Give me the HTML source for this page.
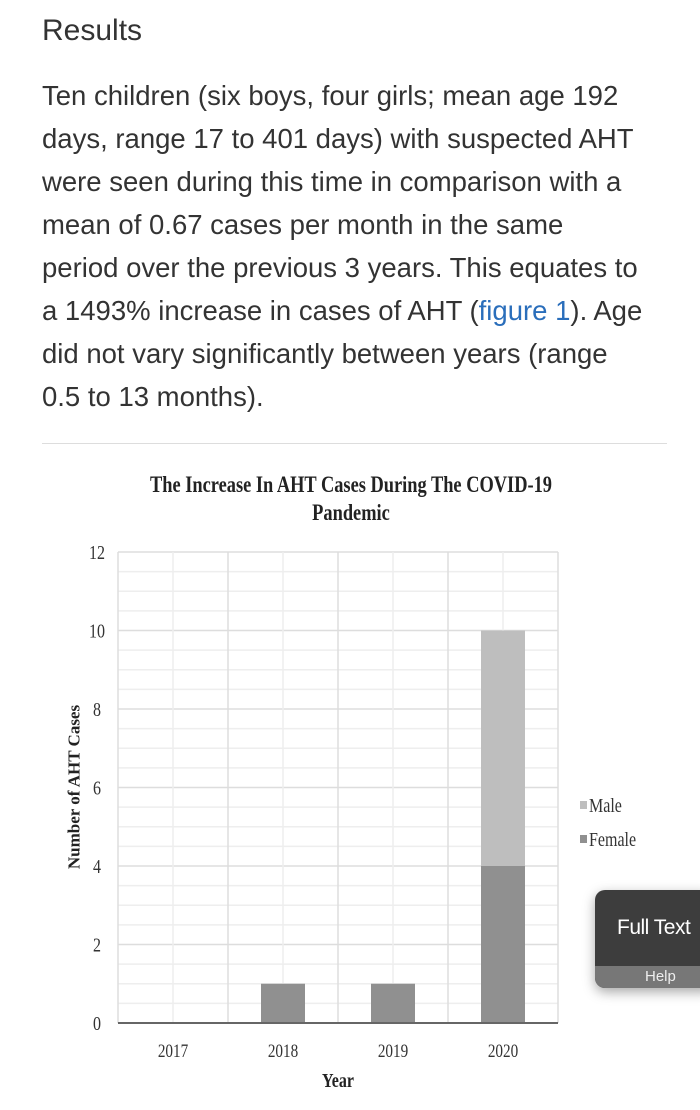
<!DOCTYPE html>
<html><head><meta charset="utf-8">
<style>
body{margin:0;width:700px;height:1110px;background:#fff;overflow:hidden;position:relative;font-family:"Liberation Sans",sans-serif;color:#333}
h2{position:absolute;left:42px;top:14px;margin:0;font-weight:normal;font-size:30px;color:#333}
p{position:absolute;left:42px;top:74px;width:650px;margin:0;font-size:27.5px;line-height:43px;color:#333;white-space:nowrap}
a{color:#2a6ebb;text-decoration:none}
.hr{position:absolute;left:42px;top:443px;width:625px;height:1px;background:#ddd}
.ft{position:absolute;left:595px;top:890px;width:120px;height:98px;border-radius:10px;background:#3d3d3d;box-shadow:0 4px 12px rgba(0,0,0,.35);overflow:hidden;color:#fff}
.ft .t{position:absolute;left:22px;top:26px;font-size:21px;letter-spacing:-0.5px}
.ft .h{position:absolute;left:0;bottom:0;width:100%;height:22px;background:#777;font-size:15px;color:#eee;padding-left:50px;line-height:22px;box-sizing:border-box}
</style></head><body>
<h2>Results</h2>
<p>Ten children (six boys, four girls; mean age 192<br>days, range 17 to 401 days) with suspected AHT<br>were seen during this time in comparison with a<br>mean of 0.67 cases per month in the same<br>period over the previous 3 years. This equates to<br>a 1493% increase in cases of AHT (<a>figure 1</a>). Age<br>did not vary significantly between years (range<br>0.5 to 13 months).</p>
<div class="hr"></div>
<svg id="chart" width="700" height="1110" style="position:absolute;left:0;top:0" font-family="Liberation Serif, serif"></svg>
<div class="ft"><div class="t">Full Text</div><div class="h">Help</div></div>
<script>
const categories=["2017","2018","2019","2020"];
const femaleValues=[0,1,1,4];
const maleValues=[0,0,0,6];
const yTicks=[0,2,4,6,8,10,12];
const NS="http://www.w3.org/2000/svg";
const svg=document.getElementById('chart');
const L=118,R=558,T=552,B=1023,yMax=12;
const y=v=>B-(v/yMax)*(B-T);
const bw=(R-L)/categories.length;
const xc=i=>L+bw*(i+0.5);
function mk(tag,attrs,txt){const e=document.createElementNS(NS,tag);for(const k in attrs)e.setAttribute(k,attrs[k]);if(txt!==undefined)e.textContent=txt;svg.appendChild(e);return e;}
const sq=(x)=>`translate(${x},0) scale(0.8,1) translate(${-x},0)`;
let t=mk('text',{x:351,y:492,'text-anchor':'middle','font-size':23,'font-weight':'bold',fill:'#222',transform:sq(351)},'The Increase In AHT Cases During The COVID-19');

t=mk('text',{x:351,y:520,'text-anchor':'middle','font-size':23,'font-weight':'bold',fill:'#222',transform:sq(351)},'Pandemic');

for(let v=0;v<=yMax;v+=0.5){const g=mk('line',{x1:L,x2:R,y1:y(v),y2:y(v),stroke:v%2===0?'#ddd':'#eee','stroke-width':1.5});
}
for(let i=0;i<=categories.length*2;i++){const xx=L+i*bw/2;const g=mk('line',{x1:xx,x2:xx,y1:T,y2:B,stroke:i%2===0?'#ddd':'#eee','stroke-width':1.5});
}
categories.forEach((c,i)=>{const w=44,x0=xc(i)-w/2;
if(femaleValues[i]>0){const r=mk('rect',{x:x0,y:y(femaleValues[i]),width:w,height:y(0)-y(femaleValues[i]),fill:'#909090'});
}
if(maleValues[i]>0){const top=femaleValues[i]+maleValues[i];const r=mk('rect',{x:x0,y:y(top),width:w,height:y(femaleValues[i])-y(top),fill:'#bebebe'});
}
const lb=mk('text',{x:xc(i),y:1057,'text-anchor':'middle','font-size':19,fill:'#333',transform:sq(xc(i))},c);
});
const ax=mk('line',{x1:L,x2:R,y1:B,y2:B,stroke:'#666','stroke-width':2});

yTicks.forEach(v=>{const tx=mk('text',{x:97,y:y(v)+7,'text-anchor':'middle','font-size':20,fill:'#333',transform:sq(97)},String(v));
});
t=mk('text',{x:74,y:787,'text-anchor':'middle','font-size':17,'font-weight':'bold',fill:'#222',transform:'rotate(-90,74,787)','dominant-baseline':'central'},'Number of AHT Cases');

t=mk('text',{x:338,y:1087,'text-anchor':'middle','font-size':20,'font-weight':'bold',fill:'#222',transform:sq(338)},'Year');

[['Male','#bebebe',805],['Female','#909090',839]].forEach(([n,col,yy])=>{
const s=mk('rect',{x:580,y:yy-4,width:7,height:8,fill:col});
const tx=mk('text',{x:589,y:yy+7,'font-size':20,fill:'#333',transform:sq(589)},n);});
</script>
</body></html>
